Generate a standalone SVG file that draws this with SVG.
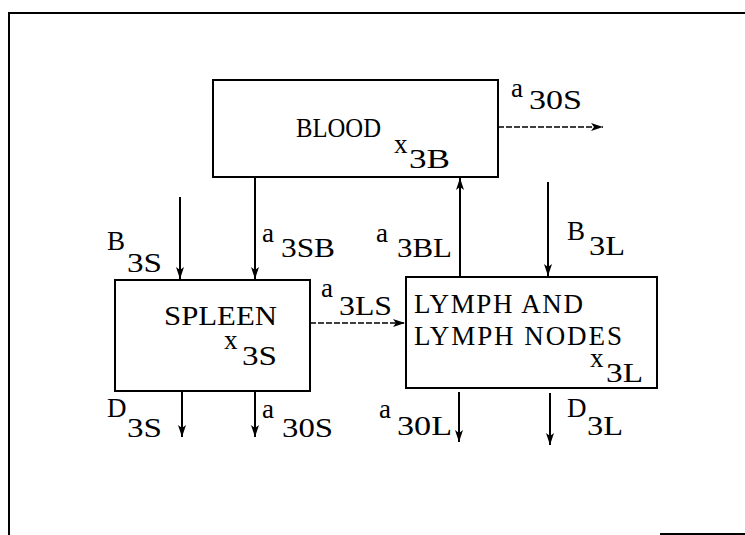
<svg xmlns="http://www.w3.org/2000/svg" width="745" height="535" viewBox="0 0 745 535">
<defs>
<marker id="ah" viewBox="0 0 12 8" refX="12" refY="4" markerWidth="12" markerHeight="8" markerUnits="userSpaceOnUse" orient="auto" overflow="visible">
<path d="M0,0 L12,4 L0,8 L3,4 z" fill="#000"/>
</marker>
</defs>
<style>
text{font-family:"Liberation Serif","DejaVu Serif","Times New Roman",serif;font-size:27px;fill:#000}
.box{fill:none;stroke:#000;stroke-width:2}
.ln{fill:none;stroke:#000;stroke-width:2;marker-end:url(#ah)}
.dl{fill:none;stroke:#000;stroke-width:1.3;stroke-dasharray:6 2;marker-end:url(#ah)}
.fr{fill:none;stroke:#000;stroke-width:2}
</style>
<rect width="745" height="535" fill="#fff"/>
<g id="frame">
<path class="fr" d="M9,535 V13 H745"/>
<path class="fr" d="M660,534 H745"/>
</g>
<g id="blood">
<rect class="box" x="213" y="80" width="285" height="97"/>
<text x="296" y="137" textLength="85" lengthAdjust="spacingAndGlyphs">BLOOD</text>
<text x="394" y="153">x</text>
<text x="409" y="168" textLength="41" lengthAdjust="spacingAndGlyphs">3B</text>
</g>
<g id="spleen">
<rect class="box" x="115" y="280" width="195" height="111"/>
<text x="164" y="325" textLength="113" lengthAdjust="spacingAndGlyphs">SPLEEN</text>
<text x="224" y="349">x</text>
<text x="242" y="365" textLength="35" lengthAdjust="spacingAndGlyphs">3S</text>
</g>
<g id="lymph">
<rect class="box" x="406" y="277" width="251" height="111"/>
<text x="414" y="313" textLength="169" lengthAdjust="spacing">LYMPH AND</text>
<text x="414" y="345" textLength="208" lengthAdjust="spacing">LYMPH NODES</text>
<text x="590" y="367">x</text>
<text x="606" y="382" textLength="37" lengthAdjust="spacingAndGlyphs">3L</text>
</g>
<g id="connectors">
<path class="dl" d="M498,127 H603"/>
<path class="ln" d="M255,177 V279"/>
<path class="ln" d="M180,197 V279"/>
<path class="dl" d="M310,323 H405"/>
<path class="ln" d="M460,277 V178"/>
<path class="ln" d="M548,182 V276"/>
<path class="ln" d="M182,391 V437"/>
<path class="ln" d="M255,391 V437"/>
<path class="ln" d="M459,392 V442"/>
<path class="ln" d="M550,393 V445"/>
</g>
<g id="labels">
<text x="511" y="97">a</text><text x="529" y="109" textLength="53" lengthAdjust="spacingAndGlyphs">30S</text>
<text x="262" y="242">a</text><text x="281" y="257" textLength="54" lengthAdjust="spacingAndGlyphs">3SB</text>
<text x="107" y="250">B</text><text x="127" y="272" textLength="35" lengthAdjust="spacingAndGlyphs">3S</text>
<text x="321" y="297">a</text><text x="339" y="315" textLength="53" lengthAdjust="spacingAndGlyphs">3LS</text>
<text x="376" y="242">a</text><text x="397" y="257" textLength="55" lengthAdjust="spacingAndGlyphs">3BL</text>
<text x="567" y="240">B</text><text x="589" y="255" textLength="36" lengthAdjust="spacingAndGlyphs">3L</text>
<text x="107" y="417">D</text><text x="127" y="437" textLength="35" lengthAdjust="spacingAndGlyphs">3S</text>
<text x="262" y="418">a</text><text x="282" y="437" textLength="51" lengthAdjust="spacingAndGlyphs">30S</text>
<text x="379" y="418">a</text><text x="397" y="435" textLength="55" lengthAdjust="spacingAndGlyphs">30L</text>
<text x="567" y="417">D</text><text x="587" y="435" textLength="36" lengthAdjust="spacingAndGlyphs">3L</text>
</g>
</svg>
